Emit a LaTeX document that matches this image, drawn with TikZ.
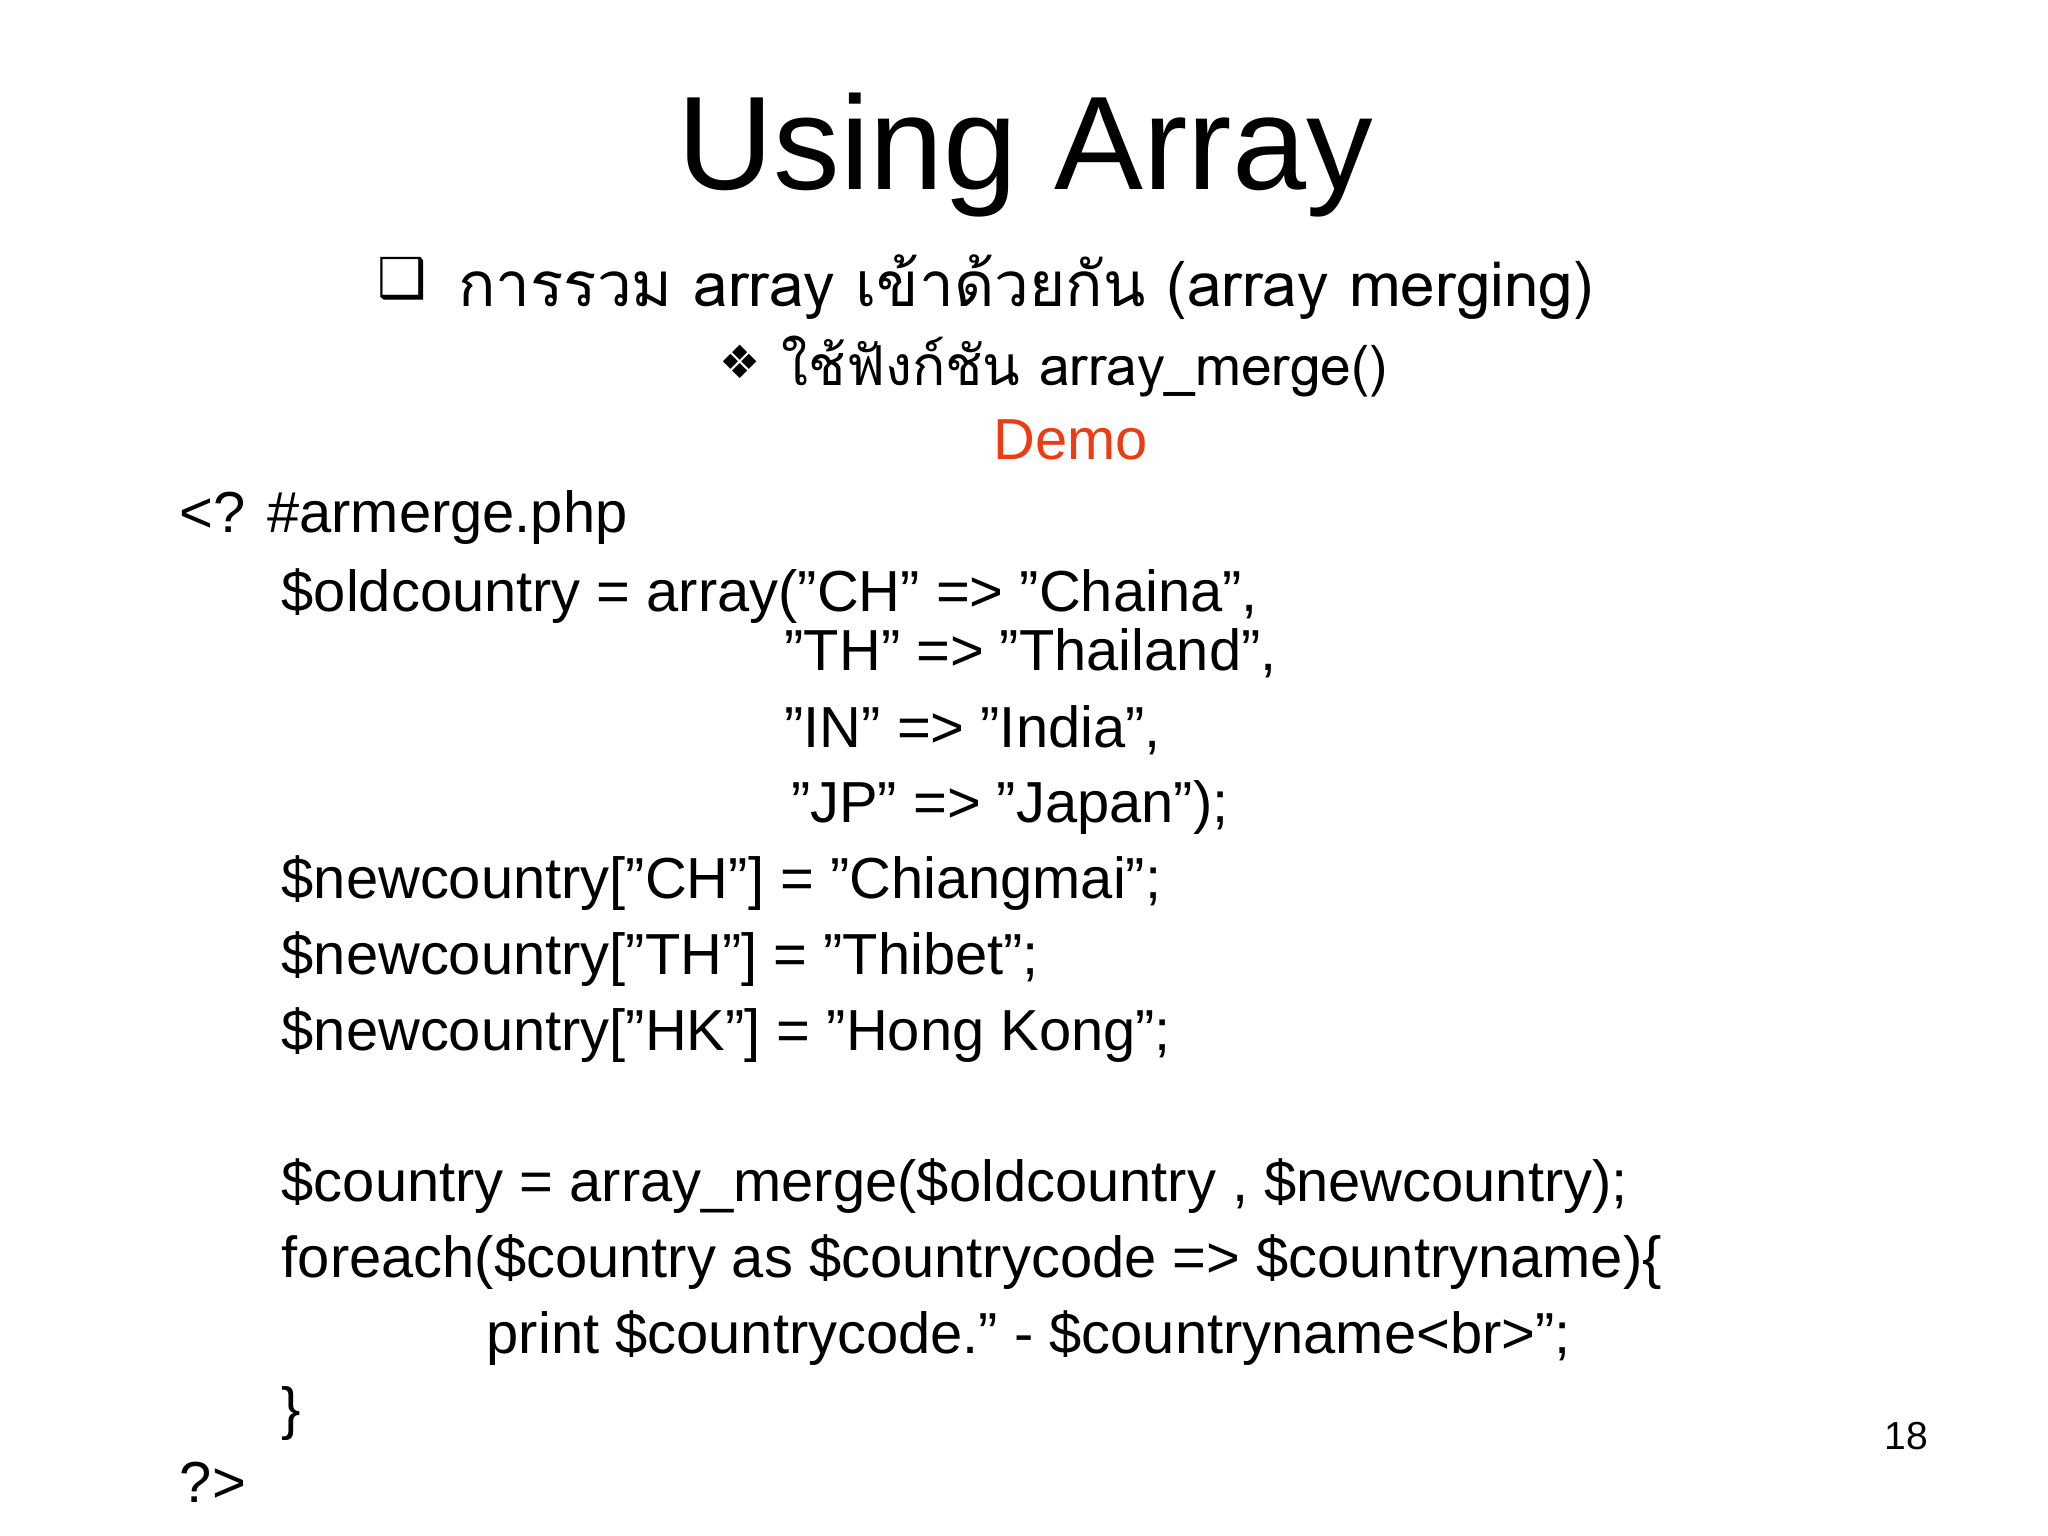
\documentclass[tikz,border=0pt]{standalone}
\usepackage{fontspec}
\setmainfont{Liberation Sans}
\newfontfamily\thaifont[Script=Thai]{Loma}
\newfontfamily\symfont{DejaVu Sans}
\newcommand{\codefs}{\fontsize{12.6pt}{14pt}\selectfont}
\begin{document}
\begin{tikzpicture}[x=0.01cm,y=-0.01cm,
  code/.style={anchor=base west,inner sep=0pt,font=\codefs},
  thai/.style={anchor=base west,inner sep=0pt,font=\fontsize{13.5pt}{15pt}\thaifont}]
\useasboundingbox (0,0) rectangle (1568,1176);
\node[anchor=base,inner sep=0pt,font=\fontsize{29pt}{32pt}\selectfont] (title) at (785,145) {Using Array};
\node[anchor=base west,inner sep=0pt,font=\fontsize{12pt}{14pt}\symfont] (box) at (288,228) {❑};
\node[thai] (l1) at (350,235) {การรวม array เข้าด้วยกัน (array merging)};
\node[anchor=base west,inner sep=0pt,font=\fontsize{10pt}{12pt}\symfont] (dia) at (550,290) {❖};
\node[thai,font=\fontsize{12pt}{14pt}\thaifont] (l2) at (598,295) {ใช้ฟังก์ชัน array\_merge()};
\node[code,text={rgb,255:red,235;green,60;blue,20}] (demo) at (760,352) {Demo};
\node[code] (c1) at (137,408) {<? \#armerge.php};
\node[code] (c2) at (215,468) {\$oldcountry = array("CH" => "Chaina",};
\node[code] (c3) at (600,513) {"TH" => "Thailand",};
\node[code] (c4) at (600,572) {"IN" => "India",};
\node[code] (c5) at (605,630) {"JP" => "Japan");};
\node[code] (c6) at (215,688) {\$newcountry["CH"] = "Chiangmai";};
\node[code] (c7) at (215,746) {\$newcountry["TH"] = "Thibet";};
\node[code] (c8) at (215,804) {\$newcountry["HK"] = "Hong Kong";};
\node[code] (c9) at (215,920) {\$country = array\_merge(\$oldcountry , \$newcountry);};
\node[code] (c10) at (215,978) {foreach(\$country as \$countrycode => \$countryname)\{};
\node[code] (c11) at (372,1036) {print \$countrycode." - \$countryname<br>";};
\node[code] (c12) at (215,1094) {\}};
\node[code] (c13) at (137,1150) {?>};
\node[anchor=base west,inner sep=0pt,font=\fontsize{8.5pt}{10pt}\selectfont] (pg) at (1442,1110) {18};
\end{tikzpicture}
\end{document}
